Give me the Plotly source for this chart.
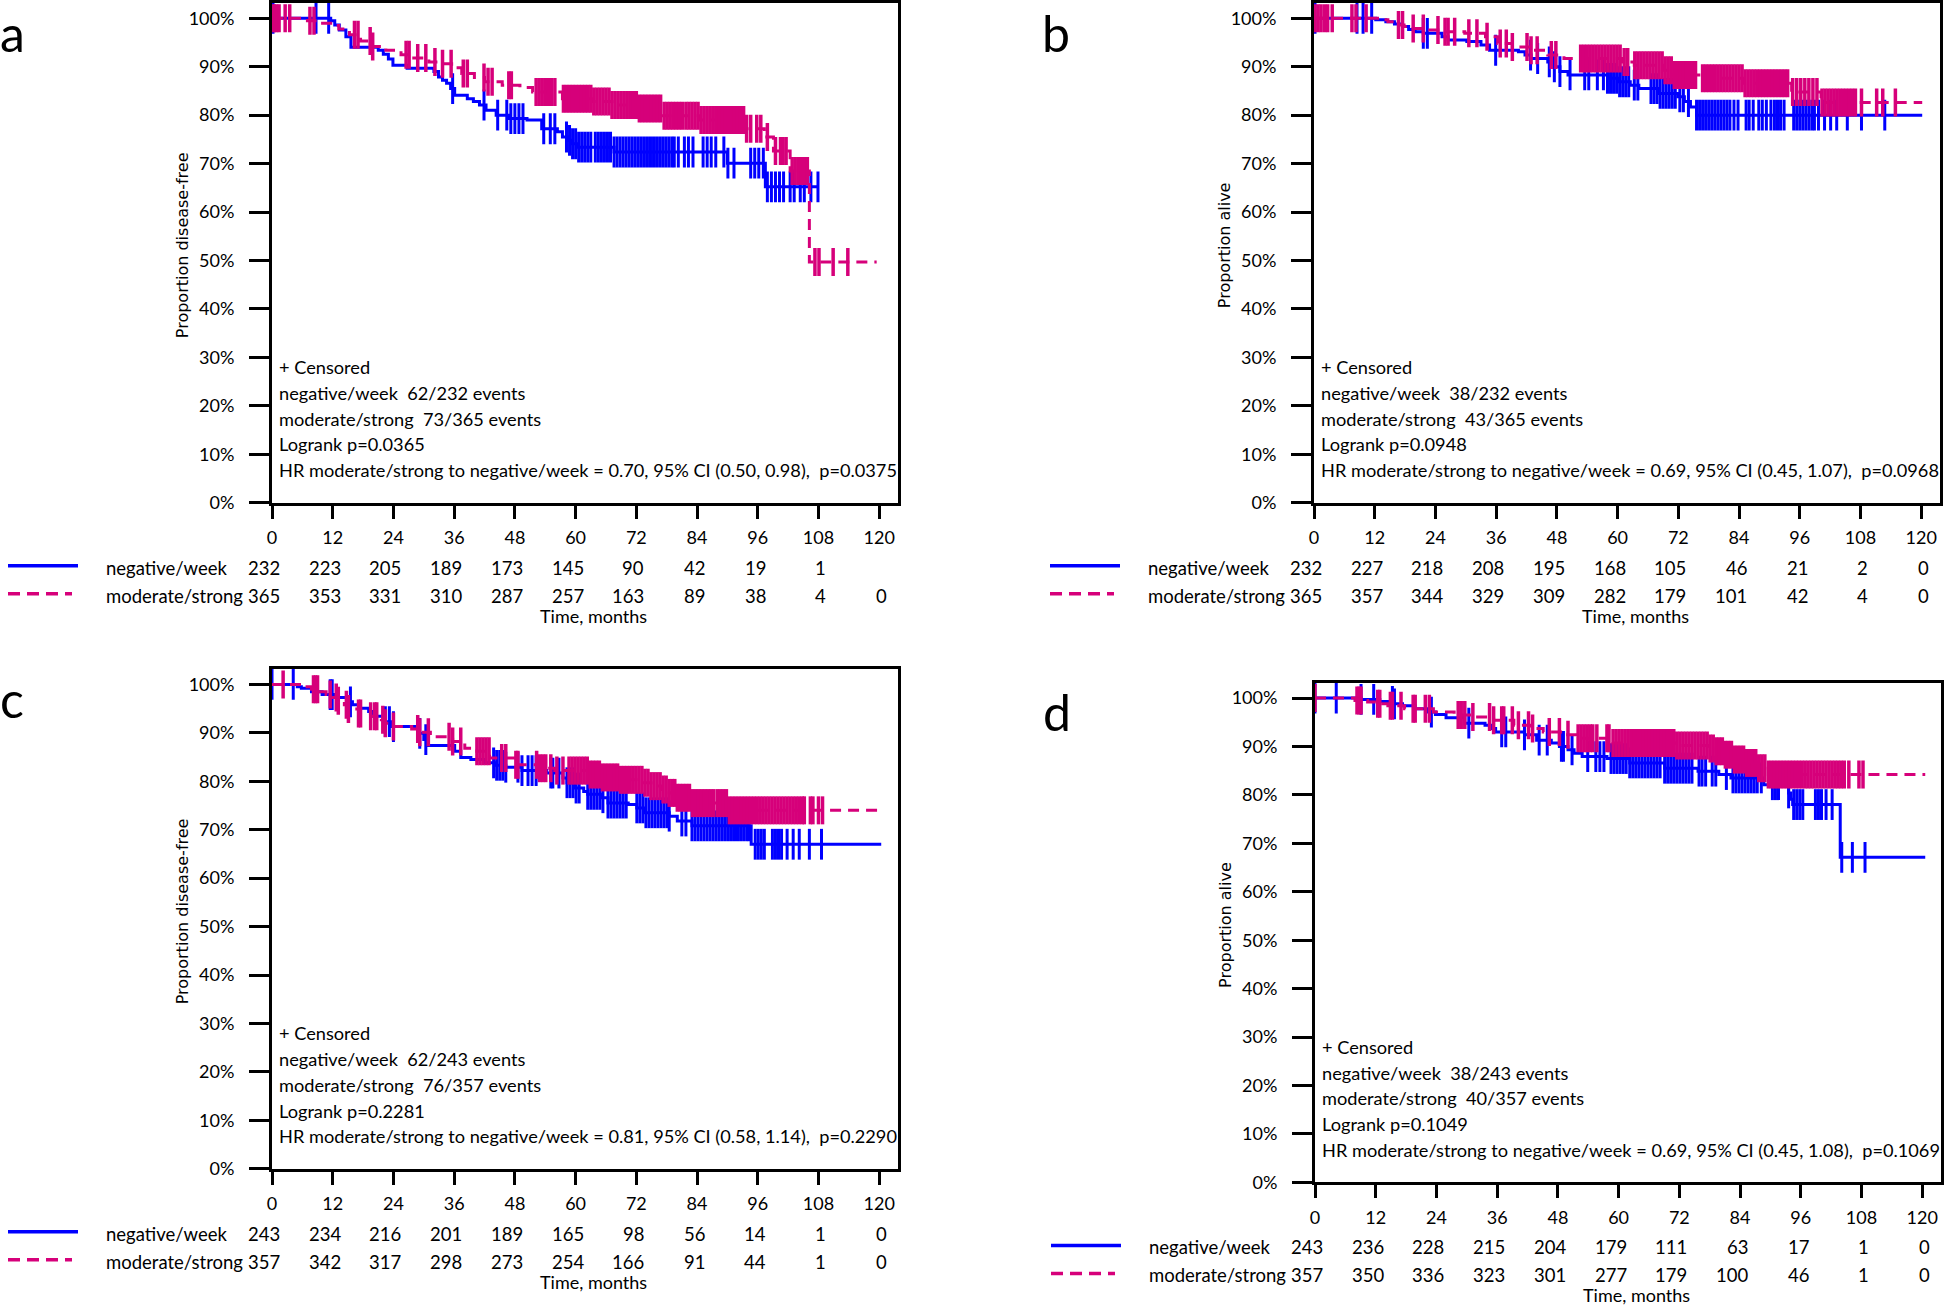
import plotly.graph_objects as go

W, H = 1946, 1306
BLUE = "#0000FF"
PINK = "#D6007A"
TXT = "Lato"
TITLE_FONT = "DejaVu Sans"

month_ticks = [0, 12, 24, 36, 48, 60, 72, 84, 96, 108, 120]
pct_ticks = [0, 10, 20, 30, 40, 50, 60, 70, 80, 90, 100]
group_names = ["negative/week", "moderate/strong"]

# ---------------- panel a : disease-free, cohort 1 ----------------
a_neg_t = [0, 11.6, 12.4, 13.3, 14.6, 15.6, 21.0, 22.0, 23.0, 23.9, 26.7, 32.0, 32.9, 33.7, 34.5, 35.3,
           36.1, 38.6, 39.8, 41.0, 42.3, 44.3, 46.8, 50.4, 53.3, 56.4, 57.4, 58.4, 59.0, 60.3, 67.6, 90.0, 97.5]
a_neg_s = [100, 99.5, 98.6, 97.6, 96.2, 94.0, 93.4, 92.6, 91.6, 90.3, 89.7, 89.0, 87.9, 87.2, 86.6, 85.5,
           84.1, 83.4, 82.8, 82.1, 81.0, 80.0, 79.3, 79.0, 77.2, 76.6, 75.5, 74.8, 74.1, 73.4, 72.4, 70.1, 65.2]
a_neg_end = 108.1
a_neg_cens = [0.2, 8.7, 11.2, 35.7, 41.9, 44.6, 46.4, 47.2, 48.0, 48.8, 49.6, 53.7, 55.0, 55.9, 58.2, 58.8,
              59.4, 60.0, 60.6, 61.2, 61.8, 62.4, 63.0, 63.9, 64.5, 65.1, 65.7, 66.3, 66.9, 67.6, 68.2, 68.8,
              69.4, 70.0, 70.6, 71.2, 71.8, 72.4, 73.0, 73.6, 74.2, 74.8, 75.4, 76.0, 76.6, 77.2, 77.8, 78.4,
              79.0, 79.5, 80.3, 81.5, 82.3, 83.2, 85.2, 86.0, 86.8, 87.7, 89.3, 90.1, 91.3, 94.6, 95.4, 96.2,
              97.1, 97.9, 98.7, 99.5, 100.3, 101.1, 102.4, 103.2, 104.4, 105.2, 106.5, 107.9]
a_mod_t = [0, 7.0, 10.0, 12.0, 13.2, 15.3, 17.5, 19.6, 22.5, 25.5, 27.5, 31.0, 33.0, 35.5, 37.5, 40.0,
           42.0, 45.5, 49.0, 51.5, 57.4, 63.1, 67.2, 72.1, 77.0, 84.4, 93.4, 97.3, 99.1, 102.4, 106.2]
a_mod_s = [100, 99.5, 99.0, 98.5, 97.8, 96.6, 95.3, 94.2, 93.4, 92.5, 91.8, 91.0, 90.6, 89.8, 88.6, 87.8,
           86.9, 86.2, 85.7, 84.8, 83.4, 82.8, 82.1, 81.4, 79.9, 79.0, 77.2, 75.5, 72.6, 68.5, 49.7]
a_mod_end = 119.5
a_mod_cens = [0.2, 0.5, 0.9, 1.4, 2.6, 3.5, 7.5, 8.3, 16.3, 17.0, 19.4, 19.9, 26.5, 27.1, 28.8, 30.4,
              32.2, 33.7, 35.4, 37.8, 38.6, 41.9, 42.7, 43.5, 46.8, 47.3, 52.2, 52.8, 53.4, 54.0, 54.6, 55.2,
              55.9, 57.6, 58.2, 58.8, 59.4, 60.0, 60.6, 61.2, 61.8, 62.4, 63.0, 63.6, 64.2, 64.8, 65.4, 66.0,
              66.6, 67.2, 67.8, 68.4, 69.0, 69.6, 70.2, 70.8, 71.4, 72.0, 72.6, 73.2, 73.8, 74.4, 75.0, 75.6,
              76.2, 76.8, 77.5, 78.1, 78.7, 79.3, 79.9, 80.5, 81.1, 81.8, 82.4, 83.0, 83.6, 84.2, 84.8, 85.4,
              86.0, 86.6, 87.2, 87.8, 88.4, 89.0, 89.6, 90.2, 90.8, 91.4, 92.0, 92.6, 93.2, 93.8, 94.6, 95.8,
              96.6, 97.9, 99.5, 100.5, 101.0, 101.6, 102.8, 103.4, 104.0, 104.6, 105.2, 105.8, 107.3, 108.1,
              110.9, 113.8]
a_risk_neg = [232, 223, 205, 189, 173, 145, 90, 42, 19, 1, None]
a_risk_mod = [365, 353, 331, 310, 287, 257, 163, 89, 38, 4, 0]
a_stats = ["+ Censored",
           "negative/week\u00a0 62/232 events",
           "moderate/strong\u00a0 73/365 events",
           "Logrank p=0.0365",
           "HR moderate/strong to negative/week = 0.70, 95% CI (0.50, 0.98),\u00a0 p=0.0375"]

# ---------------- panel b : alive, cohort 1 ----------------
b_neg_t = [0, 12.2, 14.2, 15.9, 17.5, 18.7, 20.0, 21.6, 25.3, 26.5, 30.2, 33.0, 34.7, 40.4, 41.7, 42.9,
           46.2, 47.4, 48.6, 50.2, 58.0, 60.0, 62.5, 64.2, 68.2, 71.9, 73.2, 74.4, 75.6]
b_neg_s = [100, 99.7, 99.3, 98.8, 98.3, 97.7, 97.2, 96.9, 96.2, 95.5, 95.2, 94.5, 93.4, 93.1, 92.4, 91.7,
           91.0, 90.0, 89.0, 88.3, 87.6, 86.9, 86.2, 85.5, 84.5, 83.8, 82.8, 81.7, 80.0]
b_neg_end = 120.2
b_neg_cens = [0.2, 8.5, 9.7, 11.4, 21.6, 22.4, 35.9, 42.8, 44.2, 46.5, 47.5, 48.6, 50.6, 53.5, 54.3, 56.0,
              57.2, 58.0, 58.6, 59.2, 59.8, 60.4, 61.0, 61.6, 62.2, 63.3, 64.0, 66.6, 67.2, 67.8, 68.4, 69.0,
              69.6, 70.2, 70.8, 71.4, 72.3, 73.0, 74.0, 75.6, 76.2, 76.8, 77.4, 78.0, 78.6, 79.2, 79.8, 80.4,
              81.0, 81.6, 82.2, 83.0, 83.8, 85.4, 86.0, 86.8, 87.9, 88.6, 89.4, 90.3, 91.0, 91.6, 92.2, 92.9,
              94.8, 95.4, 96.0, 96.6, 97.2, 97.8, 98.4, 98.9, 99.7, 100.9, 102.1, 103.3, 105.4, 108.2, 112.8]
b_mod_t = [0, 13.4, 14.6, 16.3, 17.8, 19.6, 22.4, 25.3, 29.8, 33.9, 36.3, 39.2, 42.5, 46.2, 49.4, 60.9,
           63.3, 69.0, 71.1, 76.8, 85.0, 94.4, 100.2]
b_mod_s = [100, 99.7, 99.3, 98.6, 98.3, 97.9, 97.6, 97.2, 96.9, 96.2, 94.8, 94.1, 93.4, 92.4, 91.7, 91.0,
           90.3, 89.3, 88.3, 87.6, 86.6, 84.8, 82.6]
b_mod_end = 120.2
b_mod_cens = [0.2, 0.8, 1.4, 2.1, 2.7, 3.6, 7.5, 8.3, 10.3, 16.7, 17.5, 19.6, 21.6, 24.5, 25.9, 26.5,
              27.8, 30.6, 32.2, 34.2, 36.8, 38.0, 39.2, 42.1, 42.9, 44.1, 46.9, 47.8, 52.7, 53.3, 53.9, 54.5,
              55.1, 55.7, 56.3, 56.9, 57.5, 58.1, 58.7, 59.3, 59.9, 60.5, 61.3, 62.0, 63.4, 64.0, 64.6, 65.2,
              65.8, 66.4, 67.0, 67.6, 68.2, 68.8, 69.4, 70.0, 70.6, 71.2, 71.8, 72.4, 73.0, 73.6, 74.2, 74.8,
              75.4, 76.8, 77.4, 78.0, 78.6, 79.2, 79.8, 80.4, 81.0, 81.6, 82.2, 82.8, 83.4, 84.0, 84.6, 85.2,
              85.8, 86.4, 87.0, 87.6, 88.2, 88.8, 89.4, 90.0, 90.6, 91.2, 91.8, 92.4, 93.0, 93.6, 94.6, 95.4,
              96.2, 97.0, 97.8, 98.6, 99.4, 100.4, 101.0, 101.6, 102.2, 102.8, 103.4, 104.0, 104.6, 105.2,
              105.8, 106.4, 107.0, 108.2, 111.2, 112.4, 114.9]
b_risk_neg = [232, 227, 218, 208, 195, 168, 105, 46, 21, 2, 0]
b_risk_mod = [365, 357, 344, 329, 309, 282, 179, 101, 42, 4, 0]
b_stats = ["+ Censored",
           "negative/week\u00a0 38/232 events",
           "moderate/strong\u00a0 43/365 events",
           "Logrank p=0.0948",
           "HR moderate/strong to negative/week = 0.69, 95% CI (0.45, 1.07),\u00a0 p=0.0968"]

# ---------------- panel c : disease-free, cohort 2 ----------------
c_neg_t = [0, 5.0, 5.8, 7.8, 9.9, 12.3, 15.1, 15.9, 17.1, 19.1, 20.0, 22.0, 23.6, 28.8, 30.0, 30.9, 36.1,
           37.3, 39.3, 41.8, 44.2, 46.2, 49.4, 54.3, 57.5, 58.3, 59.9, 61.6, 62.4, 65.2, 66.4, 70.4, 72.1,
           73.7, 78.5, 80.1, 83.0, 94.7]
c_neg_s = [100, 99.5, 99.2, 98.5, 97.9, 97.3, 96.4, 95.8, 95.1, 94.4, 93.4, 92.3, 91.3, 89.9, 88.6, 87.4,
           86.2, 84.9, 84.5, 83.8, 83.3, 82.9, 82.2, 81.7, 80.7, 79.7, 78.6, 77.9, 77.3, 76.6, 75.5, 75.2,
           74.5, 73.5, 72.8, 71.8, 70.8, 67.0]
c_neg_end = 120.4
c_neg_cens = [0.0, 4.2, 11.5, 11.9, 15.5, 22.4, 23.2, 24.0, 29.2, 30.4, 43.8, 44.4, 45.0, 45.6, 46.2, 48.6,
              49.4, 50.6, 51.4, 52.2, 55.1, 55.5, 56.7, 58.3, 58.9, 59.5, 60.1, 60.7, 62.4, 63.0, 63.6, 64.2,
              64.8, 65.4, 66.4, 67.0, 67.6, 68.2, 68.8, 69.4, 70.0, 72.1, 72.7, 73.3, 73.9, 74.5, 75.1, 75.7,
              76.3, 76.9, 77.5, 78.1, 78.5, 81.0, 81.8, 83.0, 83.6, 84.2, 84.8, 85.4, 86.0, 86.6, 87.2, 87.8,
              88.4, 89.0, 89.6, 90.2, 90.8, 91.4, 92.0, 92.6, 93.2, 93.8, 94.3, 95.5, 96.1, 96.7, 97.3, 98.9,
              99.5, 100.1, 100.7, 101.8, 103.0, 104.2, 106.2, 108.6]
c_mod_t = [0, 6.6, 7.8, 9.5, 10.7, 11.9, 13.1, 14.3, 15.1, 17.1, 19.5, 21.6, 22.4, 24.0, 27.6, 29.2,
           31.3, 35.7, 38.1, 40.5, 43.0, 47.8, 52.7, 55.9, 62.8, 64.8, 68.4, 73.3, 74.9, 76.9, 78.5, 80.1,
           83.0, 90.2]
c_mod_s = [100, 99.5, 99.0, 98.5, 97.9, 97.3, 96.6, 95.8, 94.9, 94.0, 93.4, 92.7, 92.0, 91.3, 90.8, 90.1,
           89.2, 88.2, 86.8, 86.2, 84.8, 83.4, 82.7, 82.2, 81.4, 80.8, 80.3, 79.7, 79.0, 78.3, 77.6, 76.6,
           75.5, 74.0]
c_mod_end = 120.4
c_mod_cens = [2.2, 8.2, 8.6, 9.0, 11.5, 12.7, 13.1, 14.7, 15.1, 17.1, 17.5, 19.5, 20.3, 20.7, 21.9, 22.4,
              24.0, 28.8, 29.2, 30.9, 35.0, 35.7, 37.3, 40.5, 41.1, 41.7, 42.3, 42.9, 45.4, 46.2, 48.2, 48.6,
              52.3, 52.9, 53.5, 54.1, 55.1, 56.3, 57.5, 58.7, 59.3, 59.9, 60.5, 61.1, 61.7, 62.3, 62.9, 63.5,
              64.1, 64.7, 65.3, 65.9, 66.5, 67.1, 67.7, 68.3, 68.9, 69.5, 70.1, 70.7, 71.3, 71.9, 72.5, 73.1,
              73.7, 74.3, 74.9, 75.5, 76.1, 76.7, 77.3, 77.9, 78.5, 79.1, 79.6, 80.1, 80.7, 81.3, 81.9, 82.5,
              83.1, 83.7, 84.3, 84.9, 85.5, 86.1, 86.7, 87.3, 88.0, 88.6, 89.2, 89.8, 90.4, 91.0, 91.6, 92.2,
              92.8, 93.4, 94.0, 94.6, 95.2, 95.8, 96.4, 97.0, 97.6, 98.2, 98.8, 99.4, 100.0, 100.6, 101.2,
              101.8, 102.4, 103.0, 103.6, 104.2, 104.8, 105.2, 106.4, 106.9, 108.0, 108.8]
c_risk_neg = [243, 234, 216, 201, 189, 165, 98, 56, 14, 1, 0]
c_risk_mod = [357, 342, 317, 298, 273, 254, 166, 91, 44, 1, 0]
c_stats = ["+ Censored",
           "negative/week\u00a0 62/243 events",
           "moderate/strong\u00a0 76/357 events",
           "Logrank p=0.2281",
           "HR moderate/strong to negative/week = 0.81, 95% CI (0.58, 1.14),\u00a0 p=0.2290"]

# ---------------- panel d : alive, cohort 2 ----------------
d_neg_t = [0, 9.1, 12.8, 15.7, 17.3, 19.8, 22.2, 23.8, 25.9, 29.6, 33.6, 34.9, 35.7, 41.4, 43.8, 46.7,
           48.3, 50.0, 51.2, 52.8, 57.7, 62.2, 69.1, 75.7, 79.8, 82.2, 88.7, 93.6, 94.0, 94.4, 103.8]
d_neg_s = [100, 99.7, 99.3, 98.8, 98.4, 97.8, 97.1, 96.6, 95.9, 94.8, 94.4, 93.7, 93.0, 92.4, 91.3, 90.7,
           90.0, 89.3, 88.6, 87.9, 87.5, 86.6, 85.5, 84.9, 84.2, 83.5, 82.1, 80.4, 79.1, 78.0, 67.1]
d_neg_end = 120.6
d_neg_cens = [0.0, 4.2, 9.1, 11.6, 15.3, 15.7, 23.0, 30.4, 36.9, 37.7, 41.4, 44.3, 45.9, 48.7, 49.1, 50.8,
              53.9, 55.5, 56.3, 57.1, 58.5, 59.1, 59.7, 60.3, 60.9, 61.5, 62.2, 62.8, 63.4, 64.0, 64.6, 65.2,
              65.8, 66.4, 67.0, 67.6, 68.2, 69.1, 69.7, 70.3, 70.9, 71.5, 72.1, 72.7, 73.3, 73.9, 74.5, 75.9,
              76.5, 77.2, 78.5, 79.2, 81.3, 82.6, 83.2, 83.8, 84.4, 85.0, 85.6, 86.2, 86.8, 87.4, 88.2, 90.4,
              91.0, 91.6, 93.6, 94.6, 95.2, 95.8, 96.4, 98.9, 99.5, 100.1, 101.0, 102.2, 104.1, 106.2, 108.7]
d_mod_t = [0, 7.9, 10.4, 12.0, 14.4, 17.7, 23.4, 27.5, 31.2, 35.3, 39.3, 42.6, 45.1, 49.1, 51.6, 58.9,
           71.2, 77.7, 79.3, 81.0, 82.6, 85.0, 87.5, 89.6]
d_mod_s = [100, 99.5, 99.2, 98.8, 98.4, 97.8, 97.1, 96.5, 96.1, 95.4, 94.4, 93.7, 93.0, 92.4, 91.7, 90.7,
           90.2, 89.6, 89.0, 88.3, 87.3, 86.6, 85.5, 84.2]
d_mod_end = 120.6
d_mod_cens = [0.0, 8.3, 8.7, 9.1, 12.4, 12.8, 14.9, 15.3, 17.0, 19.4, 19.8, 21.8, 22.6, 28.3, 28.9, 29.6,
              31.2, 34.5, 35.3, 36.9, 37.3, 39.0, 40.2, 42.2, 43.0, 46.3, 48.3, 50.0, 52.0, 52.6, 53.2, 53.8,
              54.4, 54.9, 55.7, 57.7, 58.1, 58.9, 59.5, 60.1, 60.7, 61.3, 61.9, 62.5, 63.1, 63.7, 64.3, 64.9,
              65.5, 66.1, 66.7, 67.3, 67.9, 68.5, 69.1, 69.7, 70.3, 70.9, 71.5, 72.1, 72.7, 73.3, 73.9, 74.5,
              75.1, 75.7, 76.3, 76.9, 77.5, 78.1, 78.7, 79.3, 79.9, 80.5, 81.1, 81.7, 82.3, 82.9, 83.5, 84.1,
              84.7, 85.3, 85.9, 86.5, 87.1, 87.7, 88.3, 88.9, 89.6, 90.2, 90.8, 91.4, 92.0, 92.6, 93.2, 93.8,
              94.4, 95.0, 95.6, 96.2, 96.8, 97.4, 98.0, 98.6, 99.2, 99.8, 100.4, 101.0, 101.6, 102.2, 102.8,
              103.4, 104.0, 104.6, 105.5, 107.5, 108.3]
d_risk_neg = [243, 236, 228, 215, 204, 179, 111, 63, 17, 1, 0]
d_risk_mod = [357, 350, 336, 323, 301, 277, 179, 100, 46, 1, 0]
d_stats = ["+ Censored",
           "negative/week\u00a0 38/243 events",
           "moderate/strong\u00a0 40/357 events",
           "Logrank p=0.1049",
           "HR moderate/strong to negative/week = 0.69, 95% CI (0.45, 1.08),\u00a0 p=0.1069"]

# panel layout in page pixels: x of the y axis line, y of the 0% line
panels = [
    dict(label="a", x0=272, y0=502.7, ytitle="Proportion disease-free",
         neg=(a_neg_t, a_neg_s, a_neg_end, a_neg_cens), mod=(a_mod_t, a_mod_s, a_mod_end, a_mod_cens),
         risk=(a_risk_neg, a_risk_mod), stats=a_stats),
    dict(label="b", x0=1314, y0=502.7, ytitle="Proportion alive",
         neg=(b_neg_t, b_neg_s, b_neg_end, b_neg_cens), mod=(b_mod_t, b_mod_s, b_mod_end, b_mod_cens),
         risk=(b_risk_neg, b_risk_mod), stats=b_stats),
    dict(label="c", x0=272, y0=1168.8, ytitle="Proportion disease-free",
         neg=(c_neg_t, c_neg_s, c_neg_end, c_neg_cens), mod=(c_mod_t, c_mod_s, c_mod_end, c_mod_cens),
         risk=(c_risk_neg, c_risk_mod), stats=c_stats),
    dict(label="d", x0=1315, y0=1182.4, ytitle="Proportion alive",
         neg=(d_neg_t, d_neg_s, d_neg_end, d_neg_cens), mod=(d_mod_t, d_mod_s, d_mod_end, d_mod_cens),
         risk=(d_risk_neg, d_risk_mod), stats=d_stats),
]

PLOT_W, PLOT_H = 626, 499.7
PX_MONTH, PX_PCT = 5.06, 4.844


def px(x):
    return x / W


def py(y):
    return 1 - y / H


def level_at(t, times, surv):
    val = surv[0]
    for tt, s in zip(times, surv):
        if tt <= t:
            val = s
    return val


fig = go.Figure()
annotations = []
shapes = []

for i, p in enumerate(panels, start=1):
    xa = "x" if i == 1 else f"x{i}"
    ya = "y" if i == 1 else f"y{i}"
    x0, y0 = p["x0"], p["y0"]

    for (times, surv, end, cens), color, dash, tsize, twidth in [
        (p["neg"], BLUE, "solid", 22, 3),
        (p["mod"], PINK, "11px,7px", 20, 3.5),
    ]:
        fig.add_trace(go.Scatter(x=times + [end], y=surv + [surv[-1]], mode="lines",
                                 line=dict(color=color, width=3, dash=dash, shape="hv"),
                                 xaxis=xa, yaxis=ya, showlegend=False, hoverinfo="skip"))
        fig.add_trace(go.Scatter(x=cens, y=[level_at(t, times, surv) for t in cens], mode="markers",
                                 marker=dict(symbol="line-ns", size=tsize, color=color,
                                             line=dict(color=color, width=twidth)),
                                 xaxis=xa, yaxis=ya, showlegend=False, hoverinfo="skip"))

    common = dict(showline=True, linewidth=3, linecolor="black", mirror=True, showgrid=False,
                  zeroline=False, ticks="outside", tickwidth=3, tickcolor="black", automargin=False,
                  tickfont=dict(family=TXT, size=18, color="black"))
    fig.update_layout(**{
        ("xaxis" if i == 1 else f"xaxis{i}"): dict(
            domain=[px(x0), px(x0 + PLOT_W)], range=[0, PLOT_W / PX_MONTH], anchor=ya,
            tickvals=month_ticks, ticklen=13, ticklabelstandoff=4, **common),
        ("yaxis" if i == 1 else f"yaxis{i}"): dict(
            domain=[py(y0), py(y0 - PLOT_H)], range=[0, PLOT_H / PX_PCT], anchor=xa,
            tickvals=pct_ticks, ticktext=[f"{v}%" for v in pct_ticks], ticklen=20,
            ticklabelstandoff=11, **common),
    })

    # panel letter
    annotations.append(dict(x=px(x0 - 274), y=py(y0 - 470), xref="paper", yref="paper", text=p["label"],
                            xanchor="left", yanchor="middle", showarrow=False,
                            font=dict(family=TXT, size=50, color="black")))
    # y axis title
    annotations.append(dict(x=px(x0 - 89.5), y=py(y0 - 257), xref="paper", yref="paper", text=p["ytitle"],
                            textangle=-90, xanchor="center", yanchor="middle", showarrow=False,
                            font=dict(family=TITLE_FONT, size=16, color="black")))
    # statistics block inside the plot
    for k, line in enumerate(p["stats"]):
        annotations.append(dict(x=px(x0 + 5), y=py(y0 - 135.7 + k * 25.8), xref="paper", yref="paper",
                                text=line, xanchor="left", yanchor="middle", showarrow=False,
                                font=dict(family=TXT, size=18.2, color="black")))
    # number at risk table
    for r, (name, counts, color) in enumerate(zip(group_names, p["risk"], [BLUE, PINK])):
        ry = y0 + 65 + r * 28
        annotations.append(dict(x=px(x0 - 168), y=py(ry), xref="paper", yref="paper", text=name,
                                xanchor="left", yanchor="middle", showarrow=False,
                                font=dict(family=TXT, size=18.5, color="black")))
        for m, n in zip(month_ticks, counts):
            if n is None:
                continue
            annotations.append(dict(x=m, y=py(ry), xref=xa, yref="paper", text=str(n), xanchor="right",
                                    xshift=10, yanchor="middle", showarrow=False,
                                    font=dict(family=TXT, size=18.5, color="black")))
        shapes.append(dict(type="line", xref="paper", yref="paper",
                           x0=px(x0 - 264), x1=px(x0 - (194 if r == 0 else 200)),
                           y0=py(ry - 2), y1=py(ry - 2),
                           line=dict(color=color, width=3.5, dash="solid" if r == 0 else "12px,7px")))
    annotations.append(dict(x=px(x0 + 321), y=py(y0 + 113), xref="paper", yref="paper", text="Time, months",
                            xanchor="center", yanchor="middle", showarrow=False,
                            font=dict(family=TXT, size=18, color="black")))

fig.update_layout(width=W, height=H, margin=dict(l=0, r=0, t=0, b=0), paper_bgcolor="white",
                  plot_bgcolor="white", showlegend=False, annotations=annotations, shapes=shapes)

# the page body has a default 8px margin; remove it so the figure sits at the window origin
fig.write_html("out.html", config={"displayModeBar": False},
               post_script="document.body.style.margin='0px';")
